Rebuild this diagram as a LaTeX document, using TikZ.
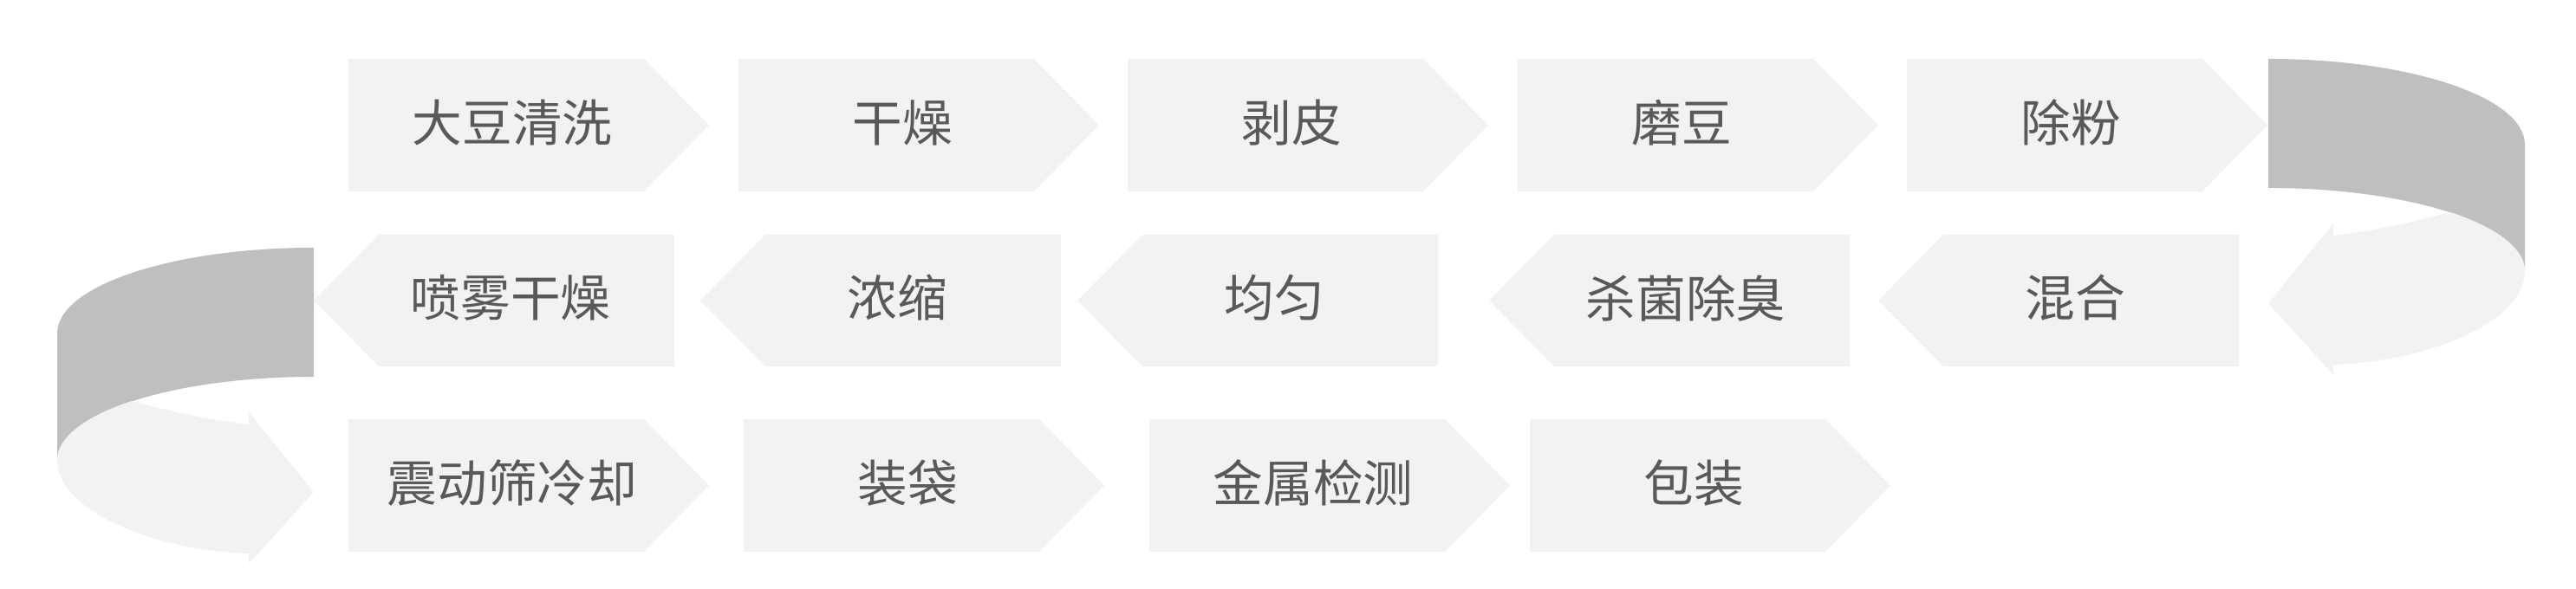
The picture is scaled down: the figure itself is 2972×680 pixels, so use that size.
\documentclass[tikz,border=0pt]{standalone}
\usepackage{fontspec}
\setmainfont{Noto Sans CJK SC}
\definecolor{StepGray}{HTML}{F2F2F2}
\definecolor{BandGray}{HTML}{BFBFBF}
\definecolor{LabelGray}{HTML}{595959}
\tikzset{
  stepbox/.style={fill=StepGray},
  bandback/.style={fill=BandGray},
  steplabel/.style={font=\fontsize{16.4pt}{20pt}\selectfont,text=LabelGray,inner sep=0pt}
}
\begin{document}
\begin{tikzpicture}[x=0.01cm,y=0.01cm]
  \useasboundingbox (0,0) rectangle (2972,680);
  % first row, pointing right
  \foreach \l/\name/\txt in {402/wash/大豆清洗,852/dry/干燥,1301/peel/剥皮,1751/grind/磨豆,2200/sieve/除粉}{
    \fill[stepbox] (\l,459) -- ++(341,0) -- ++(75,76.5) -- ++(-75,76.5) -- ++(-341,0) -- cycle;
    \node[steplabel] (\name) at (\l+189,538.5) {\txt};
  }
  % second row, pointing left
  \foreach \t/\name/\txt in {2167/mix/混合,1718/sterilize/杀菌除臭,1243/homogenize/均匀,808/concentrate/浓缩,362/spraydry/喷雾干燥}{
    \fill[stepbox] (\t,333) -- ++(75,-76) -- ++(341,0) -- ++(0,152) -- ++(-341,0) -- cycle;
    \node[steplabel] (\name) at (\t+227,336) {\txt};
  }
  % third row, pointing right
  \foreach \l/\name/\txt in {402/cool/震动筛冷却,858/bag/装袋,1326/metal/金属检测,1765/pack/包装}{
    \fill[stepbox] (\l,43) -- ++(341,0) -- ++(75,76.5) -- ++(-75,76.5) -- ++(-341,0) -- cycle;
    \node[steplabel] (\name) at (\l+189,122.5) {\txt};
  }
  % turning ribbons between the rows
  \foreach \cx/\cy/\f in {2617/612/1,362/394/-1}{
    \begin{scope}[shift={(\cx,\cy)},xscale=\f]
      \fill[bandback] (0,0) .. controls (163,0) and (296,-44) .. (296,-99)
        -- (296,-245) .. controls (296,-192) and (163,-149) .. (0,-149) -- cycle;
      \fill[stepbox] (296,-245) .. controls (296,-305) and (180,-350) .. (75,-353)
        -- (75,-365) -- (0,-282) -- (75,-190) -- (75,-204)
        .. controls (120,-199) and (170,-188) .. (210,-177)
        .. controls (265,-195) and (296,-220) .. (296,-245) -- cycle;
    \end{scope}
  }
\end{tikzpicture}
\end{document}
